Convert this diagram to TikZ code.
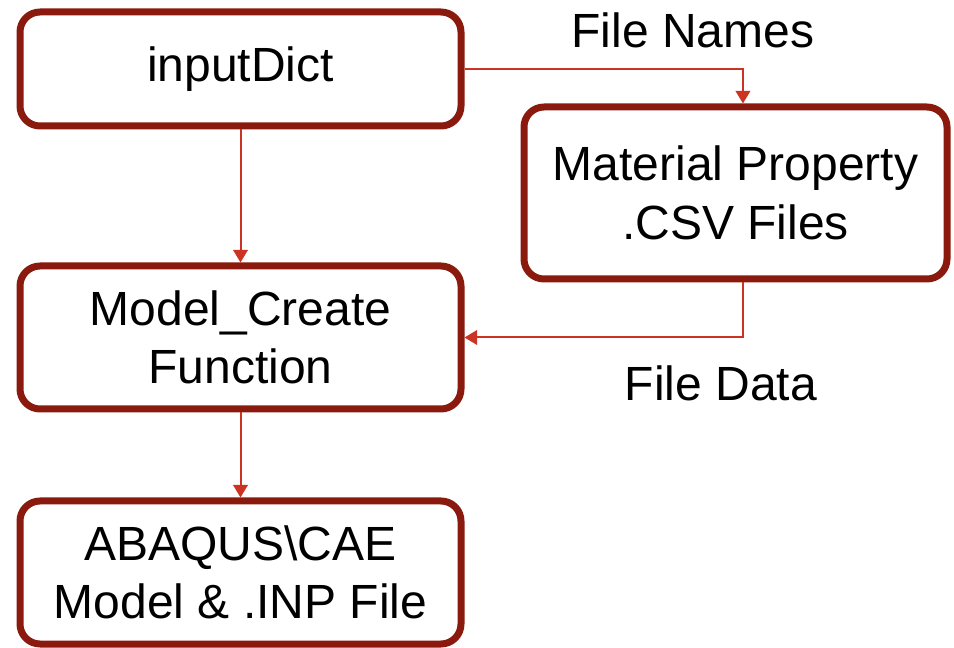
\documentclass[tikz,border=0pt]{standalone}
\usepackage{fontspec}
\setmainfont{Liberation Sans}
\usetikzlibrary{arrows.meta}
\definecolor{boxred}{RGB}{139,26,14}
\definecolor{linered}{RGB}{204,51,34}
\tikzset{every picture/.style={line width=0.75pt}}
\tikzset{
	block/.style={draw=boxred, line width=5.25pt, rounded corners=15pt, align=center, inner sep=0pt, font=\fontsize{36}{44}\selectfont},
	flow/.style={draw=linered, line width=1.5pt, -{Triangle[length=9.5pt,width=11pt]}},
	tag/.style={inner sep=0pt, font=\fontsize{36}{44}\selectfont}
}
\begin{document}
\begin{tikzpicture}[x=0.75pt,y=0.75pt,yscale=-1,xscale=1]
		\useasboundingbox (0,0) rectangle (954,648);
		
		%Shape: Rounded Rectangle [id:dict]
		\node [block, minimum width=330.75pt, minimum height=85.5pt] (dict) at (240.5,69) {inputDict};
		%Shape: Rounded Rectangle [id:csv]
		\node [block, minimum width=317.25pt, minimum height=129pt] (csv) at (735.5,193) {Material Property\\.CSV Files};
		%Shape: Rounded Rectangle [id:create]
		\node [block, minimum width=330.75pt, minimum height=107.25pt] (create) at (240.5,337.5) {Model\_Create\\Function};
		%Shape: Rounded Rectangle [id:abaqus]
		\node [block, minimum width=330.75pt, minimum height=107.25pt] (abaqus) at (240.5,572.5) {ABAQUS\textbackslash CAE\\Model \& .INP File};
		
		\draw [flow] (dict) -- (create) ;
		\draw [flow] (create) -- (abaqus) ;
		\draw [flow] (dict.east) -| ([xshift=5.6pt]csv.north) ;
		\draw [flow] ([xshift=5.6pt]csv.south) |- (create.east) ;
		
		\node [tag] (names) at (693,30) {File Names};
		\node [tag] (data) at (721,383) {File Data};
		
\end{tikzpicture}
\end{document}
